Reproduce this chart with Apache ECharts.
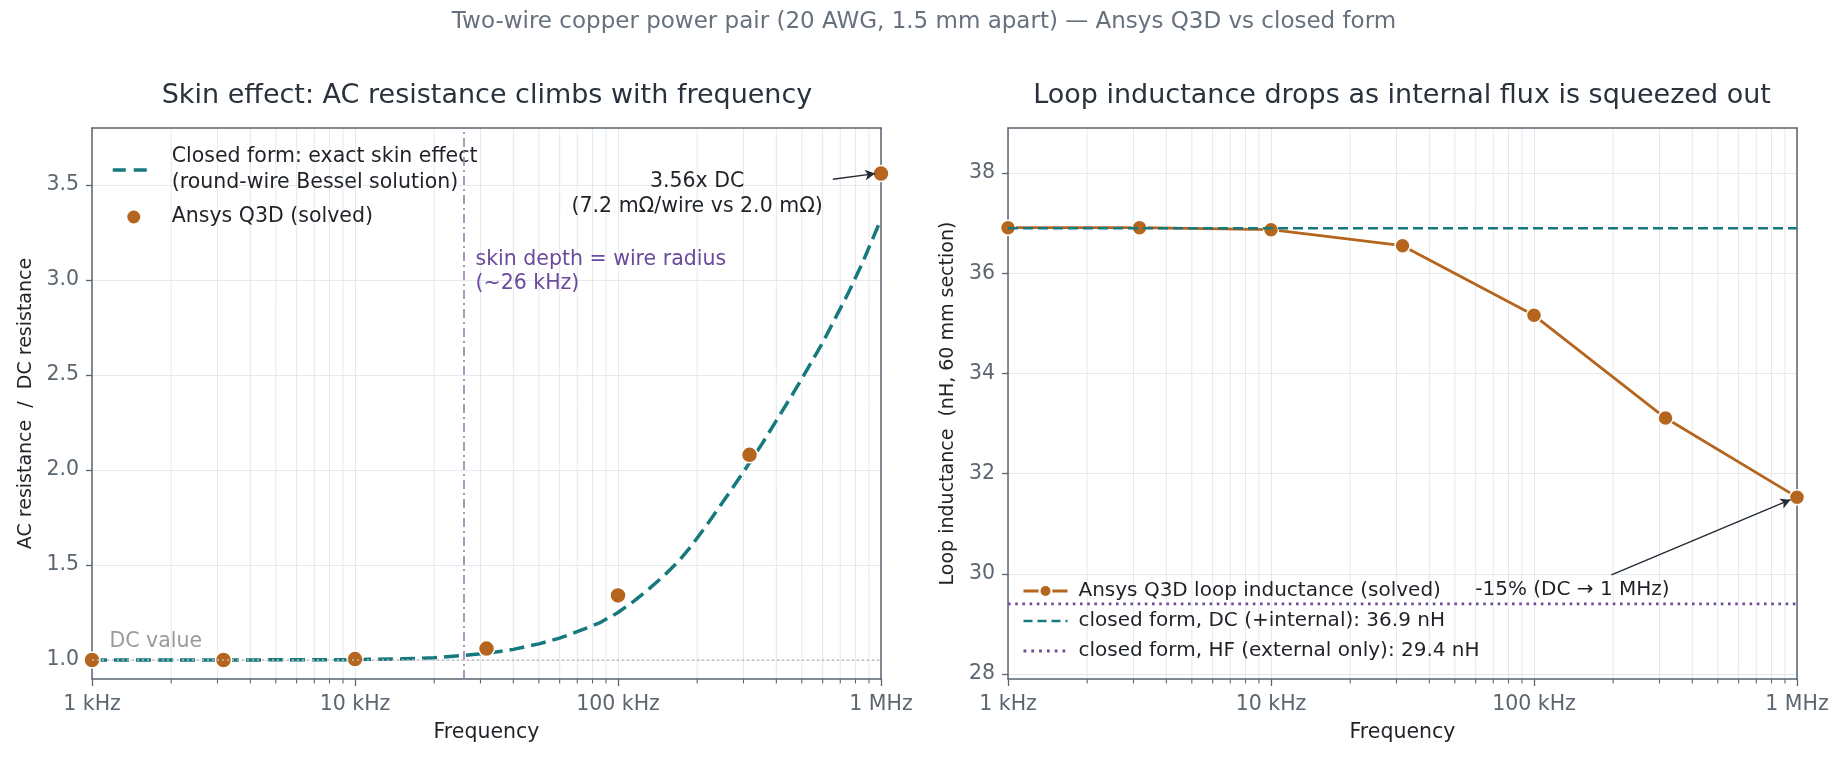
<!DOCTYPE html>
<html lang="en">
<head>
    <meta charset="UTF-8">
    <title>Two-wire copper power pair</title>
    <script src="https://cdn.jsdelivr.net/npm/echarts@6/dist/echarts.min.js"></script>
    <style>
        html, body { margin: 0; padding: 0; background: #fff; }
        #main { width: 1844px; height: 760px; }
    </style>
</head>
<body>
<div id="main"></div>
<script>
// ---- data ----
var freqQ3D = [1000, 3162, 10000, 31623, 100000, 316228, 1000000];
var rQ3D = [1.0, 1.0, 1.005, 1.06, 1.34, 2.08, 3.56];          // AC/DC resistance, Q3D
var lQ3D = [36.91, 36.91, 36.87, 36.55, 35.16, 33.11, 31.53];   // loop inductance nH, Q3D

// closed-form (Bessel) curve
var freqBessel = [1000, 3000, 10000, 15000, 20000, 26000, 32000, 40000, 50000, 60000, 75000, 85000,
    100000, 115000, 130000, 150000, 170000, 190000, 220000, 250000, 300000, 350000, 400000, 450000,
    500000, 600000, 750000, 850000, 1000000];
var rBessel = [1.0, 1.0, 1.002, 1.006, 1.012, 1.024, 1.036, 1.056, 1.085, 1.115, 1.165, 1.195,
    1.25, 1.31, 1.37, 1.445, 1.52, 1.60, 1.72, 1.83, 1.99, 2.13, 2.26, 2.375,
    2.48, 2.67, 2.93, 3.09, 3.32];

var L_DC = 36.9, L_HF = 29.4, F_SKIN = 26000;
var minorFreqs = [2000, 3000, 4000, 5000, 6000, 7000, 8000, 9000,
    20000, 30000, 40000, 50000, 60000, 70000, 80000, 90000,
    200000, 300000, 400000, 500000, 600000, 700000, 800000, 900000];
var xTickLabels = ['1 kHz', '10 kHz', '100 kHz', '1 MHz'];
var leftYTicks = [1.0, 1.5, 2.0, 2.5, 3.0, 3.5];
var rightYTicks = [28, 30, 32, 34, 36, 38];

var TEAL = '#15797e', ORANGE = '#b5651d', PURPLE = '#6e4c9c', FRAME = '#5a6571';
var GRIDC = '#e4e9ed', TICKC = '#5c6670', INK = '#1f2328';
var FONT = 'DejaVu Sans';

var nameCF = 'Closed form: exact skin effect\n(round-wire Bessel solution)';
var nameQ = 'Ansys Q3D (solved)';
var nameQL = 'Ansys Q3D loop inductance (solved)';
var nameDC = 'closed form, DC (+internal): 36.9 nH';
var nameHF = 'closed form, HF (external only): 29.4 nH';

var frameLine = {show: true, lineStyle: {color: FRAME, width: 1.5}};

function xAxisFor(gi) {
    return {
        type: 'log', logBase: 10, gridIndex: gi, min: 1000, max: 1000000,
        name: 'Frequency', nameLocation: 'middle', nameGap: 43,
        nameTextStyle: {fontSize: 20.5, color: INK, fontFamily: FONT},
        axisLine: frameLine,
        axisTick: {show: true, length: 7, lineStyle: {color: FRAME, width: 1.3}},
        axisLabel: {fontSize: 20.5, color: TICKC, margin: 15, fontFamily: FONT,
            formatter: function (v) { return xTickLabels[Math.round(Math.log10(v)) - 3]; }},
        splitLine: {show: true, lineStyle: {color: GRIDC, width: 1}}
    };
}

// top / right edges of the frame
function xTopFor(gi) {
    return {type: 'log', logBase: 10, gridIndex: gi, min: 1000, max: 1000000, position: 'top',
        axisLine: frameLine, axisTick: {show: false}, axisLabel: {show: false}, splitLine: {show: false}};
}
function yRightFor(gi, lo, hi) {
    return {type: 'value', gridIndex: gi, min: lo, max: hi, position: 'right',
        axisLine: frameLine, axisTick: {show: false}, axisLabel: {show: false}, splitLine: {show: false}};
}

function yAxisFor(gi, lo, hi, ticks, name, gap, fmt) {
    return {
        type: 'value', gridIndex: gi, min: lo, max: hi,
        name: name, nameLocation: 'middle', nameGap: gap,
        nameTextStyle: {fontSize: 19, color: INK, fontFamily: FONT},
        axisLine: frameLine,
        axisTick: {show: true, length: 6, customValues: ticks, lineStyle: {color: FRAME, width: 1.3}},
        axisLabel: {fontSize: 20.5, color: TICKC, margin: 13, customValues: ticks, fontFamily: FONT,
            formatter: fmt},
        splitLine: {show: true, lineStyle: {color: GRIDC, width: 1}}
    };
}

// minor log gridlines + minor ticks, placed through the axes
function minorGrid(gi, lo, hi) {
    return {
        type: 'custom', xAxisIndex: gi, yAxisIndex: gi, z: 1, silent: true,
        data: minorFreqs.map(function (f) { return [f, lo]; }),
        renderItem: function (params, api) {
            var f = api.value(0);
            var a = api.coord([f, hi]);
            var b = api.coord([f, lo]);
            return {type: 'group', children: [
                {type: 'line', shape: {x1: a[0], y1: a[1] + 1, x2: b[0], y2: b[1] - 1},
                    style: {stroke: GRIDC, lineWidth: 1}},
                {type: 'line', shape: {x1: b[0], y1: b[1], x2: b[0], y2: b[1] + 4.5},
                    style: {stroke: FRAME, lineWidth: 1.1}}
            ]};
        }
    };
}

function pairs(xs, ys) { return xs.map(function (x, i) { return [x, ys[i]]; }); }

var chart = echarts.init(document.getElementById('main'));
var option = {
    animation: false,
    backgroundColor: '#ffffff',
    textStyle: {fontFamily: FONT},
    title: [
        {text: 'Two-wire copper power pair (20 AWG, 1.5 mm apart) \u2014 Ansys Q3D vs closed form',
            left: 924, top: 11, textAlign: 'center', padding: 0,
            textStyle: {fontSize: 23, fontWeight: 'normal', color: '#66717d', fontFamily: FONT}},
        {text: 'Skin effect: AC resistance climbs with frequency',
            left: 487, top: 82, textAlign: 'center', padding: 0,
            textStyle: {fontSize: 27, fontWeight: 'normal', color: '#29323c', fontFamily: FONT}},
        {text: 'Loop inductance drops as internal flux is squeezed out',
            left: 1402, top: 82, textAlign: 'center', padding: 0,
            textStyle: {fontSize: 27, fontWeight: 'normal', color: '#29323c', fontFamily: FONT}}
    ],
    legend: [
        {data: [{name: nameCF, itemStyle: {opacity: 0}, lineStyle: {width: 3.5, type: [13, 8]}},
                {name: nameQ, icon: 'circle'}],
            orient: 'vertical', left: 111, top: 144, padding: 0,
            itemWidth: 42, itemHeight: 15, itemGap: 8,
            textStyle: {fontSize: 20.5, color: INK, lineHeight: 26, padding: [0, 0, 0, 12], fontFamily: FONT}},
        {data: [{name: nameQL, lineStyle: {width: 3}},
                {name: nameDC, itemStyle: {opacity: 0}, lineStyle: {width: 2.6, type: [9, 5]}},
                {name: nameHF, itemStyle: {opacity: 0}, lineStyle: {width: 2.8, type: [2.8, 5]}}],
            orient: 'vertical', left: 1022, top: 580, padding: 0,
            itemWidth: 44, itemHeight: 15, itemGap: 8,
            textStyle: {fontSize: 20, color: INK, lineHeight: 22, padding: [0, 0, 0, 6], fontFamily: FONT}}
    ],
    grid: [
        {left: 92, top: 128, width: 789, height: 551},
        {left: 1008, top: 128, width: 789, height: 551}
    ],
    xAxis: [xAxisFor(0), xAxisFor(1), xTopFor(0), xTopFor(1)],
    yAxis: [
        yAxisFor(0, 0.9, 3.8, leftYTicks, 'AC resistance  /  DC resistance', 56,
            function (v) { return v.toFixed(1); }),
        yAxisFor(1, 27.9, 38.9, rightYTicks, 'Loop inductance  (nH, 60 mm section)', 50,
            function (v) { return String(v); }),
        yRightFor(0, 0.9, 3.8),
        yRightFor(1, 27.9, 38.9)
    ],
    series: [
        minorGrid(0, 0.9, 3.8),
        minorGrid(1, 27.9, 38.9),
        {
            name: nameCF, type: 'line', xAxisIndex: 0, yAxisIndex: 0, z: 3,
            data: pairs(freqBessel, rBessel), symbol: 'none',
            lineStyle: {color: TEAL, width: 3.5, type: [15, 7]},
            itemStyle: {color: TEAL},
            markLine: {
                silent: true, symbol: ['none', 'none'], label: {show: false},
                data: [
                    {xAxis: F_SKIN, lineStyle: {color: '#9d87b5', width: 1.7, type: [9, 4, 2, 4]}},
                    {yAxis: 1.0, lineStyle: {color: '#bdbdbd', width: 1.5, type: [2, 3]}}
                ]
            },
            markPoint: {
                silent: true, symbol: 'circle', symbolSize: 1, itemStyle: {color: 'rgba(0,0,0,0)'},
                data: [
                    {coord: [28600, 3.045], label: {show: true, position: 'right', distance: 0,
                        formatter: 'skin depth = wire radius\n(~26 kHz)', color: '#6a4a9c',
                        fontSize: 20.5, lineHeight: 24, align: 'left'}},
                    {coord: [1160, 1.095], label: {show: true, position: 'right', distance: 0,
                        formatter: 'DC value', color: '#9a9a9a', fontSize: 20.5}},
                    {coord: [200000, 3.45], label: {show: true, position: 'inside',
                        formatter: '3.56x DC\n(7.2 m\u03a9/wire vs 2.0 m\u03a9)', color: INK,
                        fontSize: 20.5, lineHeight: 25}}
                ]
            }
        },
        {
            name: nameQ, type: 'scatter', xAxisIndex: 0, yAxisIndex: 0, z: 4,
            data: pairs(freqQ3D, rQ3D), symbol: 'circle', symbolSize: 16,
            itemStyle: {color: ORANGE, opacity: 1, borderColor: '#fff', borderWidth: 1.5},
            markLine: {
                silent: true, symbol: ['none', 'arrow'], symbolSize: [8, 10], label: {show: false},
                lineStyle: {color: '#222a33', width: 1.4, type: 'solid'},
                data: [[{coord: [656000, 3.53]}, {coord: [950000, 3.56]}]]
            }
        },
        {
            name: nameQL, type: 'line', xAxisIndex: 1, yAxisIndex: 1, z: 3,
            data: pairs(freqQ3D, lQ3D), symbol: 'circle', symbolSize: 15, showSymbol: true,
            lineStyle: {color: ORANGE, width: 2.8},
            itemStyle: {color: ORANGE, borderColor: '#fff', borderWidth: 1.5},
            markLine: {
                silent: true, symbol: ['none', 'arrow'], symbolSize: [8, 10], label: {show: false},
                lineStyle: {color: '#222a33', width: 1.4, type: 'solid'},
                data: [[{coord: [197000, 29.98]}, {coord: [945000, 31.48]}]]
            },
            markPoint: {
                silent: true, symbol: 'circle', symbolSize: 1, itemStyle: {color: 'rgba(0,0,0,0)'},
                data: [
                    {coord: [140000, 29.68], label: {show: true, position: 'inside',
                        formatter: '-15% (DC \u2192 1 MHz)', color: INK, fontSize: 20}}
                ]
            }
        },
        {
            name: nameDC, type: 'line', xAxisIndex: 1, yAxisIndex: 1, z: 5,
            data: [[1000, L_DC], [1000000, L_DC]], symbol: 'none',
            lineStyle: {color: TEAL, width: 2.4, type: [10, 5]}, itemStyle: {color: TEAL}
        },
        {
            name: nameHF, type: 'line', xAxisIndex: 1, yAxisIndex: 1, z: 5,
            data: [[1000, L_HF], [1000000, L_HF]], symbol: 'none',
            lineStyle: {color: PURPLE, width: 2.6, type: [2.6, 4.6]}, itemStyle: {color: PURPLE}
        }
    ]
};
chart.setOption(option);
</script>
</body>
</html>
